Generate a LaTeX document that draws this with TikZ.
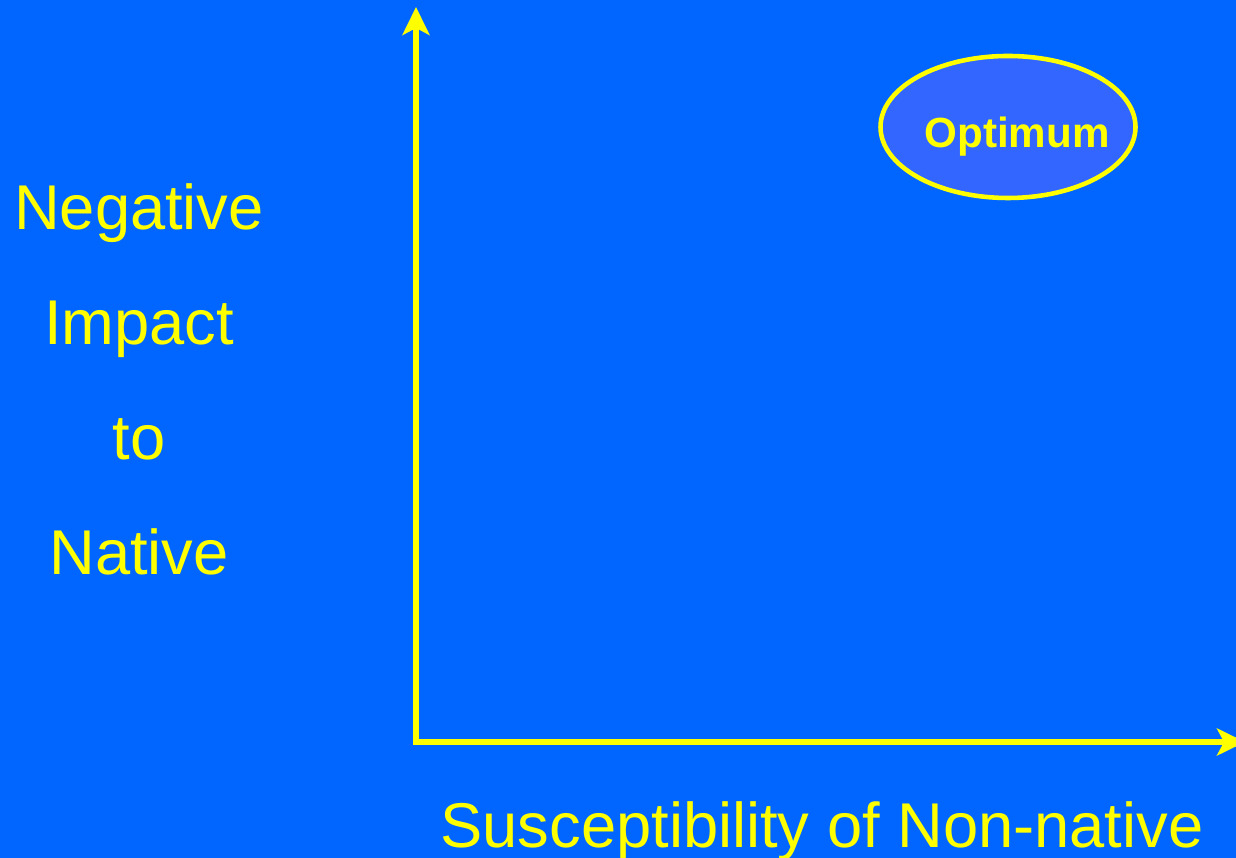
\documentclass[tikz,border=0pt]{standalone}
\usepackage{fontspec}
\setsansfont{Liberation Sans}
\usepackage{tikz}
\usetikzlibrary{arrows.meta,positioning,shapes.geometric}
\definecolor{slideblue}{RGB}{0,102,255}
\definecolor{ovalblue}{RGB}{51,102,255}
\definecolor{slideyellow}{RGB}{255,255,0}
\tikzset{
  axis/.style={{Stealth[length=2.8mm,width=2.7mm,inset=0.7mm]}-{Stealth[length=2.8mm,width=2.7mm,inset=0.7mm]},line width=1.6pt,draw=slideyellow},
  axislabel/.style={anchor=base,text=slideyellow,font=\sffamily\fontsize{18}{22}\selectfont,inner sep=0pt},
  optoval/.style={ellipse,draw=slideyellow,fill=ovalblue,line width=1.3pt,minimum width=2.55cm,minimum height=1.42cm,inner sep=0pt},
  opttext/.style={text=slideyellow,font=\sffamily\bfseries\fontsize{12}{14}\selectfont,inner sep=0pt}
}

\begin{document}
\begin{tikzpicture}
  \fill[slideblue] (0,0) rectangle (12.36,8.58);
  \useasboundingbox (0,0) rectangle (12.36,8.58);

  \coordinate (origin) at (4.16,1.16);
  \coordinate (ytip) at (4.16,8.51);
  \coordinate (xtip) at (12.45,1.16);

  \draw[axis] (ytip) -- (origin) -- (xtip);

  \foreach \lab [count=\i] in {Negative,Impact,to,Native}{
    \node[axislabel] (ylab\i) at (1.39,{6.28-1.15*(\i-1)}) {\lab};
  }

  \node[axislabel] (xlab) at (8.22,0.10) {Susceptibility of Non-native};

  \node[optoval] (optimum) at (10.08,7.31) {};
  \node[opttext] (optlab) at ([xshift=0.09cm,yshift=-0.10cm]optimum.center) {Optimum};
\end{tikzpicture}
\end{document}
